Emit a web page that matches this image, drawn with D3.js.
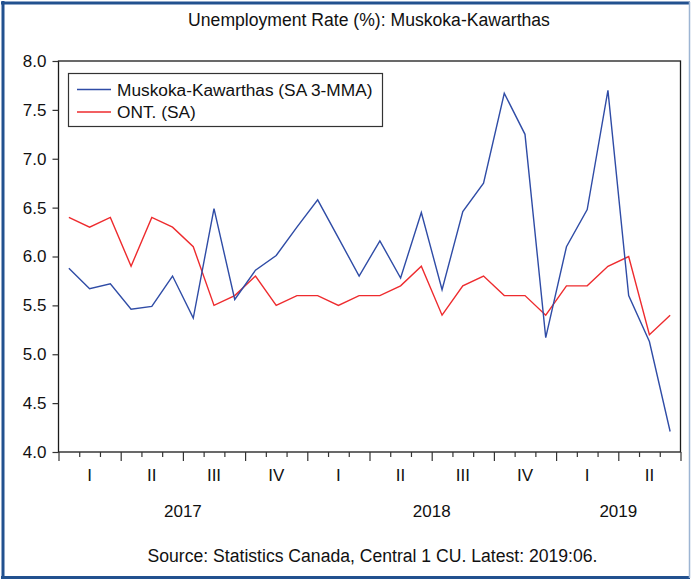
<!DOCTYPE html>
<html>
<head>
<meta charset="utf-8">
<script src="https://cdn.jsdelivr.net/npm/d3@7"></script>
<style>
  html, body { margin: 0; padding: 0; background: #fff; }
  svg { display: block; font-family: "Liberation Sans", Arial, sans-serif; }
</style>
</head>
<body>
<svg id="chart" width="691" height="580"></svg>
<script>
// ---- data ----
const months = [
  "2017-01","2017-02","2017-03","2017-04","2017-05","2017-06",
  "2017-07","2017-08","2017-09","2017-10","2017-11","2017-12",
  "2018-01","2018-02","2018-03","2018-04","2018-05","2018-06",
  "2018-07","2018-08","2018-09","2018-10","2018-11","2018-12",
  "2019-01","2019-02","2019-03","2019-04","2019-05","2019-06"
];
const muskoka = [
  5.88, 5.67, 5.72, 5.46, 5.49, 5.80, 5.37, 6.49, 5.56, 5.86, 6.01, 6.30,
  6.58, 6.19, 5.80, 6.16, 5.78, 6.45, 5.66, 6.46, 6.75, 7.67, 7.25, 5.17,
  6.10, 6.48, 7.70, 5.60, 5.13, 4.21
];
const ontario = [
  6.4, 6.3, 6.4, 5.9, 6.4, 6.3, 6.1, 5.5, 5.6, 5.8, 5.5, 5.6,
  5.6, 5.5, 5.6, 5.6, 5.7, 5.9, 5.4, 5.7, 5.8, 5.6, 5.6, 5.4,
  5.7, 5.7, 5.9, 6.0, 5.2, 5.4
];
const seriesNames = ["Muskoka-Kawarthas (SA 3-MMA)", "ONT. (SA)"];
const yTicks = [4.0, 4.5, 5.0, 5.5, 6.0, 6.5, 7.0, 7.5, 8.0];
const quarterLabels = ["I","II","III","IV","I","II","III","IV","I","II"];
const years = ["2017", "2018", "2019"];
const yearMonthCounts = [12, 12, 6];
const title = "Unemployment Rate (%): Muskoka-Kawarthas";
const source = "Source: Statistics Canada, Central 1 CU. Latest: 2019:06.";

// ---- layout ----
const W = 691, H = 580;
const plot = { left: 58.5, right: 680.5, top: 61, bottom: 452 };
const colors = { blue: "#2f4ca6", red: "#ee2b2e", frame: "#22518f" };
const FONT = 17;

const svg = d3.select("#chart");

// outer frame
svg.append("rect").attr("x", 0).attr("y", 0).attr("width", W).attr("height", H).attr("fill", "#fff");
svg.append("line").attr("x1", 3).attr("x2", 3).attr("y1", 1).attr("y2", 579)
  .attr("stroke", colors.frame).attr("stroke-width", 3);
svg.append("line").attr("x1", 1).attr("x2", 690).attr("y1", 3).attr("y2", 3)
  .attr("stroke", colors.frame).attr("stroke-width", 3);
svg.append("line").attr("x1", 1).attr("x2", 690).attr("y1", 577.5).attr("y2", 577.5)
  .attr("stroke", colors.frame).attr("stroke-width", 3);
svg.append("line").attr("x1", 689.5).attr("x2", 689.5).attr("y1", 2).attr("y2", 578)
  .attr("stroke", "#9db5d3").attr("stroke-width", 1.5);

// scales
const x = d3.scaleLinear().domain([0, months.length]).range([plot.left, plot.right]);
const y = d3.scaleLinear().domain([4, 8]).range([plot.bottom, plot.top]);

// plot box
svg.append("rect")
  .attr("x", plot.left).attr("y", plot.top)
  .attr("width", plot.right - plot.left).attr("height", plot.bottom - plot.top)
  .attr("fill", "none").attr("stroke", "#1a1a1a").attr("stroke-width", 1.3);

// title
svg.append("text").attr("x", 369).attr("y", 26)
  .attr("text-anchor", "middle").attr("font-size", 17.6).attr("fill", "#111")
  .text(title);

// y axis
const yAxis = d3.axisLeft(y).tickValues(yTicks).tickFormat(d3.format(".1f"))
  .tickSize(6).tickPadding(6);
const gy = svg.append("g").attr("transform", `translate(${plot.left},0)`).call(yAxis);
gy.select(".domain").remove();
gy.selectAll("line").attr("stroke", "#333").attr("stroke-width", 1.2);
gy.selectAll("text").attr("font-size", FONT).attr("fill", "#111")
  .attr("font-family", "Liberation Sans, Arial, sans-serif");

// x axis: month ticks (short) and quarter ticks (long)
const monthIdx = d3.range(0, months.length + 1);
const xAxisMonths = d3.axisBottom(x).tickValues(monthIdx.filter(i => i % 3 !== 0))
  .tickSize(5).tickFormat("");
const gxm = svg.append("g").attr("transform", `translate(0,${plot.bottom})`).call(xAxisMonths);
gxm.select(".domain").remove();
gxm.selectAll("line").attr("stroke", "#333").attr("stroke-width", 1.2);

const xAxisQuarters = d3.axisBottom(x).tickValues(monthIdx.filter(i => i % 3 === 0))
  .tickSize(9).tickFormat("");
const gxq = svg.append("g").attr("transform", `translate(0,${plot.bottom})`).call(xAxisQuarters);
gxq.select(".domain").remove();
gxq.selectAll("line").attr("stroke", "#333").attr("stroke-width", 1.2);

// quarter labels
svg.append("g").selectAll("text").data(quarterLabels).join("text")
  .attr("x", (d, i) => x(i * 3 + 1.5))
  .attr("y", 481)
  .attr("text-anchor", "middle").attr("font-size", FONT).attr("fill", "#111")
  .text(d => d);

// year labels
let start = 0;
const yearPos = yearMonthCounts.map(c => { const p = start + c / 2; start += c; return p; });
svg.append("g").selectAll("text").data(years).join("text")
  .attr("x", (d, i) => x(yearPos[i]))
  .attr("y", 517)
  .attr("text-anchor", "middle").attr("font-size", FONT).attr("fill", "#111")
  .text(d => d);

// source
svg.append("text").attr("x", 372.5).attr("y", 562)
  .attr("text-anchor", "middle").attr("font-size", 17.6).attr("fill", "#111")
  .text(source);

// lines
const line = d3.line().x((d, i) => x(i + 0.5)).y(d => y(d));
svg.append("path").datum(ontario).attr("d", line)
  .attr("fill", "none").attr("stroke", colors.red).attr("stroke-width", 1.4);
svg.append("path").datum(muskoka).attr("d", line)
  .attr("fill", "none").attr("stroke", colors.blue).attr("stroke-width", 1.4);

// legend
const lg = svg.append("g");
lg.append("rect").attr("x", 68.5).attr("y", 73.5).attr("width", 314).attr("height", 53)
  .attr("fill", "#fff").attr("stroke", "#333").attr("stroke-width", 1.2);
[colors.blue, colors.red].forEach((c, i) => {
  const yy = 89.5 + i * 22.5;
  lg.append("line").attr("x1", 77).attr("x2", 111).attr("y1", yy).attr("y2", yy)
    .attr("stroke", c).attr("stroke-width", 1.4);
  lg.append("text").attr("x", 117).attr("y", yy + 6).attr("font-size", 17.3)
    .attr("fill", "#111").text(seriesNames[i]);
});
</script>
</body>
</html>
